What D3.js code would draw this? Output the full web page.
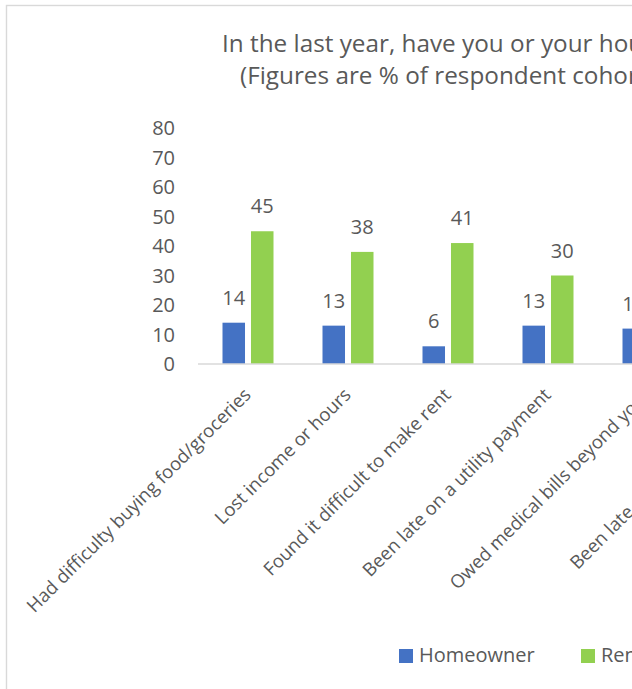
<!DOCTYPE html>
<html>
<head>
<meta charset="utf-8">
<script src="https://cdn.jsdelivr.net/npm/d3@7"></script>
<style>
  html, body { margin:0; padding:0; overflow:hidden; background:#fff; }
  svg text { font-family:"Open Sans", "Liberation Sans", sans-serif; fill:#595959; }
</style>
</head>
<body>
<div id="chart"></div>
<script>
/* ---------------- DATA ---------------- */
const categories = [
  "Had difficulty buying food/groceries",
  "Lost income or hours",
  "Found it difficult to make rent",
  "Been late on a utility payment",
  "Owed medical bills beyond your",
  "Been late on a loan payment"
];
const series = ["Homeowner", "Renter"];
const homeowner = [14, 13, 6, 13, 12, null];   // last one off-picture
const renter    = [45, 38, 41, 30, null, null]; // off-picture values left empty
const yTicks = [0, 10, 20, 30, 40, 50, 60, 70, 80];
const titleLines = [
  "In the last year, have you or your household experienced:",
  "(Figures are % of respondent cohort)"
];

const COLORS = d3.scaleOrdinal(series, ["#4472C4", "#92D050"]);

/* ---------------- LAYOUT ---------------- */
const W = 1000, H = 760,
      PLOT = {left:198, top:128, bottom:364},
      STEP = 100;

const svg = d3.select("#chart").append("svg")
  .attr("width", W).attr("height", H);

// chart frame (extends past the window like the original)
svg.append("rect")
  .attr("x", 6.5).attr("y", 5.5)
  .attr("width", W).attr("height", H)
  .attr("fill", "#fff")
  .attr("stroke", "#d9d9d9").attr("stroke-width", 1.4);

/* title */
svg.append("text")
  .attr("font-size", 24.3)
  .selectAll("tspan")
  .data(titleLines)
  .join("tspan")
   .attr("x", (d,i) => i === 0 ? 222 : 240)
   .attr("y", (d,i) => 52 + i*32)
   .text(d => d);

/* scales */
const x0 = d3.scaleBand()
  .domain(categories)
  .range([PLOT.left, PLOT.left + STEP*categories.length]);
const x1 = d3.scaleBand()
  .domain(series)
  .range([24.5, 75.5])
  .paddingInner(0.21);
const y = d3.scaleLinear().domain([0, 80]).range([PLOT.bottom, PLOT.top]);

/* y axis labels (no line) */
svg.append("g")
  .selectAll("text")
  .data(yTicks)
  .join("text")
   .attr("x", 175)
   .attr("y", d => y(d))
   .attr("dy", "0.36em")
   .attr("text-anchor", "end")
   .attr("font-size", 20)
   .text(d => d);

/* bars */
const rows = categories.map((c,i) => ({cat:c, vals:[
  {s:"Homeowner", v:homeowner[i]},
  {s:"Renter",    v:renter[i]}
].filter(d => d.v != null)}));

const grp = svg.append("g").selectAll("g.cat")
  .data(rows)
  .join("g")
   .attr("class", "cat")
   .attr("transform", d => `translate(${x0(d.cat)},0)`);

grp.selectAll("rect")
  .data(d => d.vals)
  .join("rect")
   .attr("x", d => x1(d.s))
   .attr("width", x1.bandwidth())
   .attr("y", d => y(d.v))
   .attr("height", d => y(0) - y(d.v))
   .attr("fill", d => COLORS(d.s));

grp.selectAll("text.val")
  .data(d => d.vals)
  .join("text")
   .attr("class", "val")
   .attr("x", d => x1(d.s) + x1.bandwidth()/2)
   .attr("y", d => y(d.v) - 18)
   .attr("text-anchor", "middle")
   .attr("font-size", 20)
   .text(d => d.v);

/* x axis line */
svg.append("line")
  .attr("x1", PLOT.left).attr("x2", x0.range()[1])
  .attr("y1", y(0)).attr("y2", y(0))
  .attr("stroke", "#d9d9d9").attr("stroke-width", 1.3);

/* category labels, rotated -45 */
svg.append("g")
  .selectAll("text")
  .data(categories)
  .join("text")
   .attr("transform", d => `translate(${x0(d) + x0.bandwidth()/2 + 4},396) rotate(-45)`)
   .attr("text-anchor", "end")
   .attr("font-size", 18.5)
   .text(d => d);

/* legend */
const leg = svg.append("g").selectAll("g")
  .data(series)
  .join("g")
   .attr("transform", (d,i) => `translate(${399 + i*182},649)`);
leg.append("rect")
  .attr("width", 14).attr("height", 14)
  .attr("fill", d => COLORS(d));
leg.append("text")
  .attr("x", 20).attr("y", 13)
  .attr("font-size", 20)
  .text(d => d);
</script>
</body>
</html>
